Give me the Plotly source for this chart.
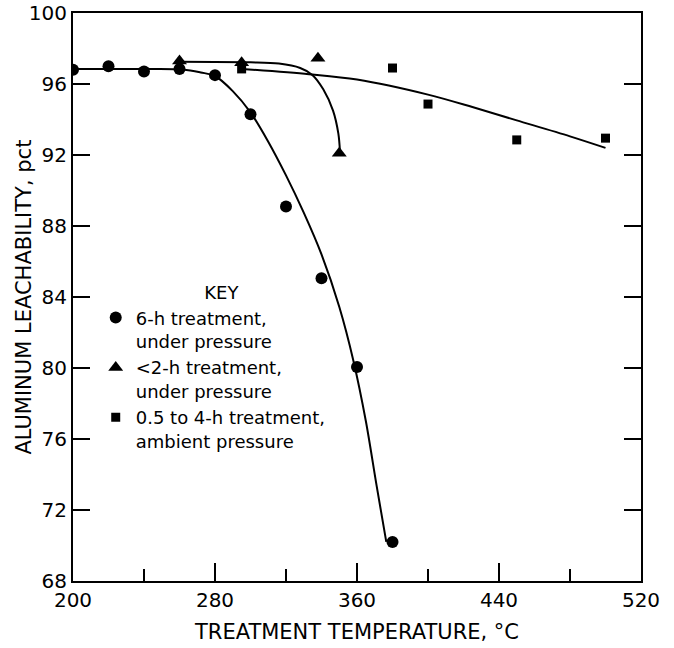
import plotly.graph_objects as go

# 6-h treatment, under pressure (circles)
six_h_temp = [200, 220, 240, 260, 280, 300, 320, 340, 360, 380]
six_h_leach = [96.8, 97.0, 96.7, 96.85, 96.5, 94.3, 89.1, 85.05, 80.05, 70.2]
# <2-h treatment, under pressure (triangles)
two_h_temp = [260, 295, 338, 350]
two_h_leach = [97.3, 97.2, 97.45, 92.1]
# 0.5 to 4-h treatment, ambient pressure (squares)
amb_temp = [295, 380, 400, 450, 500]
amb_leach = [96.85, 96.9, 94.87, 92.85, 92.95]

# hand-drawn fit curves
six_h_curve_temp = [200, 240, 262, 272, 280, 290, 300, 310, 320, 330, 340, 350, 358, 365, 371, 376.5]
six_h_curve_leach = [96.85, 96.85, 96.82, 96.65, 96.45, 95.6, 94.4, 92.75, 90.85, 88.75, 86.4, 83.45, 80.4, 77.0, 73.4, 70.2]
two_h_curve_temp = [260, 300, 316, 328, 335, 341, 346.5, 349.5, 350.4]
two_h_curve_leach = [97.25, 97.22, 97.15, 96.9, 96.5, 95.7, 94.5, 93.2, 92.2]
amb_curve_temp = [295, 333, 360, 400, 425, 450, 480, 500]
amb_curve_leach = [96.85, 96.55, 96.25, 95.4, 94.7, 93.95, 93.05, 92.4]

x_ticks = [200, 280, 360, 440, 520]
y_ticks = [68, 72, 76, 80, 84, 88, 92, 96, 100]

FONT = "DejaVu Sans"
fig = go.Figure()

line_style = dict(color="black", width=2, shape="spline", smoothing=0.9)
for xs, ys in [(six_h_curve_temp, six_h_curve_leach),
               (two_h_curve_temp, two_h_curve_leach),
               (amb_curve_temp, amb_curve_leach)]:
    fig.add_trace(go.Scatter(x=xs, y=ys, mode="lines", line=line_style,
                             showlegend=False, hoverinfo="skip"))

fig.add_trace(go.Scatter(x=six_h_temp, y=six_h_leach, mode="markers",
                         marker=dict(symbol="circle", size=12, color="black"),
                         name="6-h treatment,<br>under pressure"))
fig.add_trace(go.Scatter(x=two_h_temp, y=two_h_leach, mode="markers",
                         marker=dict(symbol="triangle-up", size=13, color="black"),
                         name="<2-h treatment,<br>under pressure"))
fig.add_trace(go.Scatter(x=amb_temp, y=amb_leach, mode="markers",
                         marker=dict(symbol="square", size=9, color="black"),
                         name="0.5 to 4-h treatment,<br>ambient pressure"))

fig.update_layout(
    width=674, height=648,
    margin=dict(l=73, r=33, t=13, b=67),
    paper_bgcolor="white", plot_bgcolor="white",
    font=dict(family=FONT, size=20, color="black"),
    showlegend=True,
    legend=dict(
        x=0.04, y=0.537, xanchor="left", yanchor="top",
        bgcolor="rgba(0,0,0,0)",
        font=dict(family=FONT, size=18, color="black"),
        title=dict(text="\u00a0\u00a0\u00a0KEY", side="top center", font=dict(family=FONT, size=18)),
        valign="top",
        itemsizing="trace",
    ),
    xaxis=dict(
        range=[200, 520], tickvals=x_ticks, ticktext=[str(v) for v in x_ticks],
        ticks="inside", ticklen=18, tickwidth=1.5, tickcolor="black",
        minor=dict(dtick=40, tick0=200, ticks="inside", ticklen=12, tickwidth=1.5, tickcolor="black"),
        showline=True, linecolor="black", linewidth=2, mirror=True,
        showgrid=False, zeroline=False, automargin=False, ticklabeloverflow="allow",
        title=dict(text="TREATMENT TEMPERATURE, °C", standoff=13,
                   font=dict(family=FONT, size=21)),
        tickfont=dict(family=FONT, size=20),
    ),
    xaxis2=dict(
        range=[200, 520], overlaying="x", side="top", dtick=40, tick0=200,
        ticks="inside", ticklen=17, tickwidth=1.5, tickcolor="black",
        showticklabels=False, showgrid=False, zeroline=False, showline=False,
        automargin=False,
    ),
    yaxis=dict(
        range=[68, 100], tickvals=y_ticks, ticktext=[str(v) for v in y_ticks],
        ticks="inside", ticklen=17, tickwidth=1.5, tickcolor="black",
        showline=True, linecolor="black", linewidth=2, mirror="ticks",
        showgrid=False, zeroline=False, automargin=False, ticklabeloverflow="allow",
        tickfont=dict(family=FONT, size=20),
    ),
    annotations=[dict(
        text="ALUMINUM LEACHABILITY, pct", textangle=-90,
        xref="paper", yref="paper", x=-0.087, y=0.5,
        xanchor="center", yanchor="middle", showarrow=False,
        font=dict(family=FONT, size=21, color="black"),
    )],
)

# remove the browser's default 8px body margin so the figure fills the window
fig.write_html("out.html", config={"displayModeBar": False},
               post_script="document.body.style.margin='0px';")
